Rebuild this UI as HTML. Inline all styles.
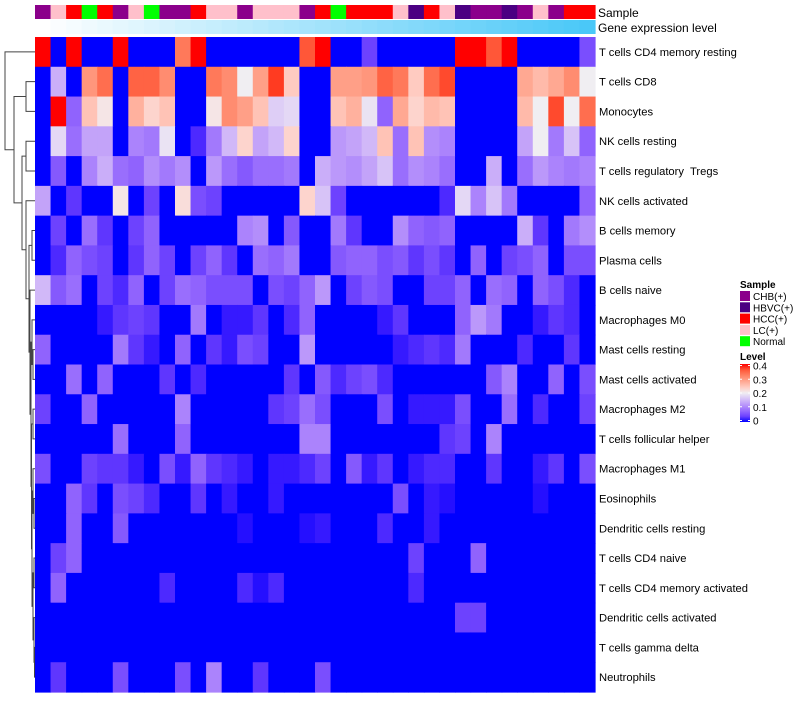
<!DOCTYPE html>
<html><head><meta charset="utf-8">
<style>
html,body{margin:0;padding:0;background:#fff;}
body{width:800px;height:700px;overflow:hidden;font-family:"Liberation Sans",Arial,sans-serif;}
svg text{font-family:"Liberation Sans",Arial,sans-serif;white-space:pre;}
</style></head>
<body>
<svg id="chart" width="800" height="700" xmlns="http://www.w3.org/2000/svg">
  <g id="dendro"></g>
  <g id="anno"></g>
  <g id="cells"></g>
  <g id="labels"></g>
  <text x="598" y="17" font-size="12">Sample</text>
  <text x="598" y="32" font-size="12">Gene expression level</text>
  <g id="legend"></g>
</svg>
<script>
const rowNames = ["T cells CD4 memory resting","T cells CD8","Monocytes","NK cells resting","T cells regulatory  Tregs","NK cells activated","B cells memory","Plasma cells","B cells naive","Macrophages M0","Mast cells resting","Mast cells activated","Macrophages M2","T cells follicular helper","Macrophages M1","Eosinophils","Dendritic cells resting","T cells CD4 naive","T cells CD4 memory activated","Dendritic cells activated","T cells gamma delta","Neutrophils"];
const sampleGroups = ["C","L","H","N","H","C","L","N","C","C","H","L","L","C","L","L","L","C","H","N","H","H","H","L","B","H","L","B","C","C","B","C","L","C","H","H"];
const sampleCategories = ["CHB(+)","HBVC(+)","HCC(+)","LC(+)","Normal"];
const sampleKeys = ["C","B","H","L","N"];
const legendTicks = [0,0.1,0.2,0.3,0.4];
const r0 = [.4,0,.4,0,0,.4,0,0,0,.33,.4,0,0,0,0,0,0,.36,.4,0,0,.04,0,0,0,0,0,.4,.4,.36,.4,0,0,0,0,.05];
const r1 = [0,.14,0,.3,.34,0,.35,.35,.31,0,0,.33,.31,.2,.29,.38,.24,0,0,.29,.29,.3,.35,.33,.24,.34,.37,0,0,0,0,.28,.26,.28,.31,.2];
const r2 = [0,.4,.07,.25,.21,0,.27,.23,.25,0,0,.21,.31,.29,.25,.17,.18,0,0,.25,.27,.19,.07,.28,.23,.26,.25,0,0,0,0,.26,.2,.37,.2,.34];
const r3 = [0,.18,.08,.13,.13,0,.1,.09,.19,0,.02,.09,.15,.23,.13,.15,.23,0,0,.12,.13,.15,.25,.08,.25,.11,.1,0,0,0,0,.13,.2,.09,.16,.07];
const r4 = [0,.06,0,.1,.14,.08,.07,.11,.09,.11,0,.12,.08,.06,.08,.08,.09,0,.14,.12,.11,.13,.16,.08,.11,.1,.08,0,0,.14,0,.08,.12,.1,.09,.1];
const r5 = [.13,0,.03,0,0,.21,0,.04,0,.22,.05,.04,0,0,0,0,0,.23,.16,.04,0,0,0,0,0,0,.02,.18,.1,.16,.09,0,0,0,0,.07];
const r6 = [0,.04,0,.08,.03,0,.04,.07,0,0,0,0,0,.1,.11,0,.06,0,0,.09,.03,0,0,.11,.07,.06,.07,0,0,0,0,.14,.03,0,.09,.11];
const r7 = [0,.02,.07,.05,.04,0,.03,.07,.04,0,.04,.07,.03,0,.08,.07,.09,0,0,.06,.07,.07,.05,.06,.03,.05,.03,0,.07,0,.04,.05,.07,0,.05,.05];
const r8 = [.15,.06,.08,0,.04,.02,.07,0,.04,.08,.07,.05,.05,.05,0,.05,.04,.07,.12,0,.04,.06,.05,0,0,.04,.04,.07,0,.08,.07,0,.07,.05,.02,0];
const r9 = [0,0,0,0,.01,.03,.04,.03,0,0,.09,0,.01,.01,.03,0,.02,.07,0,0,0,0,.01,.03,0,0,0,.07,.12,.09,0,0,.01,.03,.02,0];
const r10 = [.07,0,0,0,0,.09,.03,.01,0,.07,0,.03,.01,.05,.04,0,0,.12,0,0,0,0,0,.01,.02,.03,.02,.09,0,0,0,.02,0,0,.03,0];
const r11 = [0,0,.08,0,.07,0,0,0,.03,0,.02,0,0,0,0,0,.03,0,.06,.02,.04,.05,.02,0,0,0,0,0,0,.06,.1,0,0,.07,0,.05];
const r12 = [.04,0,0,.07,0,0,0,0,0,.1,0,0,0,0,0,.03,.04,.08,.05,0,0,0,.05,0,.01,.01,.01,.05,0,0,.08,0,.02,0,0,.04];
const r13 = [0,0,0,0,0,.08,0,0,0,.07,0,0,0,0,0,0,0,.1,.1,0,0,0,0,0,0,0,.03,.04,0,.1,0,0,0,0,0,0];
const r14 = [.05,0,0,.04,.03,.03,.01,0,.05,.01,.07,.03,.02,.01,0,.01,.01,.02,.04,0,.06,.01,.03,0,.01,.02,.02,0,0,.03,0,0,.01,.03,0,.05];
const r15 = [0,0,.07,.03,0,.05,.04,.02,0,0,.03,0,.01,0,0,.01,0,0,0,0,0,0,0,.05,0,.01,.005,0,0,0,0,0,.005,0,0,0];
const r16 = [0,0,.07,0,0,.06,0,0,0,0,0,0,0,.005,0,0,0,.005,.01,0,0,0,.02,0,0,.01,0,0,0,0,0,0,0,0,0,0];
const r17 = [0,.04,.07,0,0,0,0,0,0,0,0,0,0,0,0,0,0,0,0,0,0,0,0,0,.04,0,0,0,.07,0,0,0,0,0,0,0];
const r18 = [0,.07,0,0,0,0,0,0,.02,0,0,0,0,.02,.005,.02,0,0,0,0,0,0,0,0,.02,0,0,0,0,0,0,0,0,0,0,0];
const r19 = [0,0,0,0,0,0,0,0,0,0,0,0,0,0,0,0,0,0,0,0,0,0,0,0,0,0,0,.04,.04,0,0,0,0,0,0,0];
const r20 = [0,0,0,0,0,0,0,0,0,0,0,0,0,0,0,0,0,0,0,0,0,0,0,0,0,0,0,0,0,0,0,0,0,0,0,0];
const r21 = [0,.03,0,0,0,.05,0,0,0,.05,0,.1,0,0,.03,0,0,0,.05,0,0,0,0,0,0,0,0,0,0,0,0,0,0,0,0,0];
const values = [r0,r1,r2,r3,r4,r5,r6,r7,r8,r9,r10,r11,r12,r13,r14,r15,r16,r17,r18,r19,r20,r21];

const nA = [34.5, 20, 21];
const nB = [34, 19, nA];
const nC = [34, 17, 18];
const nD = [33, nC, nB];
const nE = [34, 15, 16];
const nF = [33, 14, nE];
const nG = [32, nF, nD];
const nH = [33, 12, 13];
const nI = [31.5, nH, nG];
const nJ = [33, 10, 11];
const nK = [32, 9, nJ];
const nL = [31, nK, nI];
const nM = [30, 8, nL];
const nN = [32, 6, 7];
const nO = [29, nN, nM];
const nP = [26, 5, nO];
const nQ = [26, 3, 4];
const nR = [22, nQ, nP];
const nS = [26, 1, 2];
const nT = [14, nS, nR];
const tree = [5, 0, nT];

const NS="http://www.w3.org/2000/svg";
const X0=35,X1=595,Y0=37,Y1=692;
const nCol=sampleGroups.length,nRow=rowNames.length;
const cw=(X1-X0)/nCol,rh=(Y1-Y0)/nRow;
const xs=i=>X0+i*cw, ys=r=>Y0+r*rh;
function mk(tag,attrs,parent){const e=document.createElementNS(NS,tag);for(const k in attrs)e.setAttribute(k,attrs[k]);parent.appendChild(e);return e;}

function toLin(c){c/=255;return c<=0.04045?c/12.92:Math.pow((c+0.055)/1.055,2.4);}
function fromLin(c){c=c<=0.0031308?12.92*c:1.055*Math.pow(c,1/2.4)-0.055;return Math.max(0,Math.min(255,Math.round(c*255)));}
function rgb2lab(r,g,b){r=toLin(r);g=toLin(g);b=toLin(b);
 let x=(r*0.4124+g*0.3576+b*0.1805)/0.95047,y=(r*0.2126+g*0.7152+b*0.0722),z=(r*0.0193+g*0.1192+b*0.9505)/1.08883;
 const f=t=>t>0.008856?Math.cbrt(t):7.787*t+16/116;x=f(x);y=f(y);z=f(z);
 return [116*y-16,500*(x-y),200*(y-z)];}
function lab2rgb(L,a,b){let y=(L+16)/116,x=a/500+y,z=y-b/200;
 const fi=t=>t*t*t>0.008856?t*t*t:(t-16/116)/7.787;x=fi(x)*0.95047;y=fi(y);z=fi(z)*1.08883;
 const r=x*3.2406+y*-1.5372+z*-0.4986,g=x*-0.9689+y*1.8758+z*0.0415,bb=x*0.0557+y*-0.2040+z*1.0570;
 return "rgb("+fromLin(r)+","+fromLin(g)+","+fromLin(bb)+")";}
const LB=rgb2lab(0,0,255),LW=rgb2lab(240,238,242),LR=rgb2lab(255,0,0);
function colorOf(v){v=Math.max(0,Math.min(0.4,v));let a,b,t;
 if(v<=0.2){a=LB;b=LW;t=v/0.2;}else{a=LW;b=LR;t=(v-0.2)/0.2;}
 return lab2rgb(a[0]+(b[0]-a[0])*t,a[1]+(b[1]-a[1])*t,a[2]+(b[2]-a[2])*t);}
const sampleColor={C:"#8B008B",B:"#4B0082",H:"#FF0000",L:"#FFC0CB",N:"#00FF00"};

try {
const cells=document.getElementById('cells');
values.forEach((row,r)=>row.forEach((v,c)=>{
  const e=mk('rect',{x:xs(c),y:ys(r),width:cw+0.6,height:rh+0.6,fill:colorOf(v)},cells);
  
  
}));
} catch(err) { console.log(err); }

try {
const anno=document.getElementById('anno');
sampleGroups.forEach((g,c)=>{
  const e=mk('rect',{x:xs(c),y:5,width:cw+0.6,height:14,fill:sampleColor[g]},anno);
  
  
  const tt=c/(nCol-1);
  const rr=Math.round(255+(74-255)*tt),gg=Math.round(255+(200-255)*tt),bb=Math.round(255+(248-255)*tt);
  const f=mk('rect',{x:xs(c),y:20,width:cw+0.6,height:14,fill:"rgb("+rr+","+gg+","+bb+")"},anno);
  
  
});
} catch(err) { console.log(err); }

try {
const labels=document.getElementById('labels');
rowNames.forEach((n,r)=>{
  const tx=mk('text',{x:599,y:ys(r)+rh/2+4,'font-size':11.2,fill:'#000'},labels);
  tx.textContent=n;
  
  
});
} catch(err) { console.log(err); }

try {
const dendro=document.getElementById('dendro');
function drawNode(node){
  if(typeof node==='number') return {x:X0,y:ys(node)+rh/2};
  const a=drawNode(node[1]),b=drawNode(node[2]),x=node[0];
  const p=mk('path',{d:"M"+a.x+","+a.y+"H"+x+"V"+b.y+"H"+b.x,fill:'none',stroke:'#444','stroke-width':1},dendro);
  
  
  return {x:x,y:(a.y+b.y)/2};
}
drawNode(tree);
} catch(err) { console.log(err); }

try {
const lg=document.getElementById('legend');
const st=mk('text',{x:740,y:288,'font-size':10,'font-weight':'bold'},lg);st.textContent='Sample';


sampleCategories.forEach((n,i)=>{
  const y=291+i*11.3;
  const r=mk('rect',{x:740,y:y,width:10,height:10,fill:sampleColor[sampleKeys[i]]},lg);
  
  
  const tx=mk('text',{x:753,y:y+9,'font-size':10},lg);tx.textContent=n;
  
  
});
const lt=mk('text',{x:740,y:360,'font-size':10,'font-weight':'bold'},lg);lt.textContent='Level';


const defs=mk('defs',{},lg);
const grad=mk('linearGradient',{id:'lvl',x1:0,y1:1,x2:0,y2:0},defs);
for(let i=0;i<=10;i++){mk('stop',{offset:i/10,'stop-color':colorOf(0.04*i)},grad);}
const bar=mk('rect',{x:740,y:364,width:10,height:58,fill:'url(#lvl)'},lg);


legendTicks.forEach(v=>{
  const y=422-(v/0.4)*55-1.5;
  mk('line',{x1:740,x2:742,y1:y,y2:y,stroke:'#fff'},lg);
  mk('line',{x1:748,x2:750,y1:y,y2:y,stroke:'#fff'},lg);
  const tx=mk('text',{x:753,y:y+4,'font-size':10},lg);tx.textContent=String(v);
  
  
});
} catch(err) { console.log(err); }
</script>
</body></html>
